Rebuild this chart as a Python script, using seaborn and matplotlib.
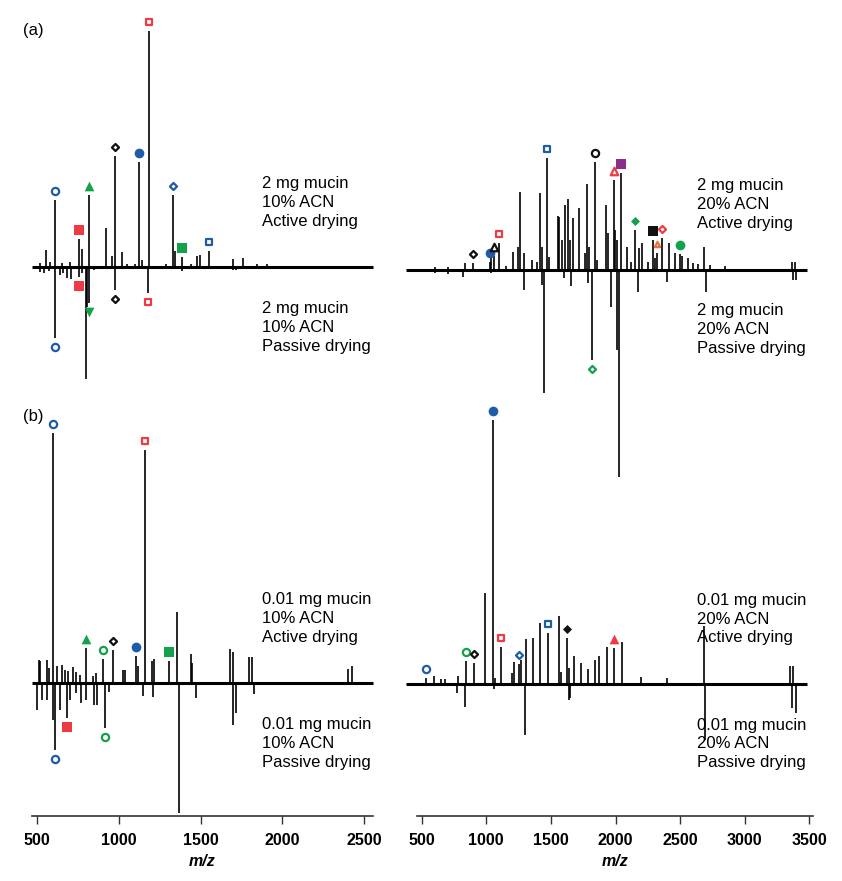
import numpy as np
import matplotlib
matplotlib.use("Agg")
import matplotlib.pyplot as plt
import seaborn as sns

# ---------------- peak lists (m/z, intensity a.u.) ----------------
# (a) 2 mg mucin, 10% ACN
a10_act_mz = [520, 553, 580, 610, 650, 700, 757, 773, 816, 920, 961, 977, 1020, 1050, 1100,
              1126, 1140, 1183, 1290, 1334, 1346, 1387, 1440, 1477, 1495, 1554, 1697, 1758, 1844, 1905]
a10_act_int = [4, 17, 5, 67, 4, 5, 28, 18, 72, 39, 11, 111, 15, 3, 3,
               105, 7, 236, 3, 72, 16, 10, 3, 11, 12, 16, 8, 9, 3, 3]
a10_pas_mz = [520, 545, 575, 610, 640, 660, 685, 705, 757, 775, 800, 808, 818, 850, 977, 1181, 1385, 1700, 1720]
a10_pas_int = [5, 6, 4, 71, 8, 6, 11, 12, 10, 6, 112, 40, 36, 3, 23, 26, 4, 3, 3]

# (a) 2 mg mucin, 20% ACN
a20_act_mz = [600, 700, 835, 900, 1025, 1040, 1062, 1101, 1150, 1204, 1248, 1263, 1294, 1351, 1392,
              1413, 1429, 1470, 1484, 1553, 1565, 1589, 1612, 1630, 1646, 1673, 1720, 1764, 1782, 1797,
              1841, 1860, 1926, 1939, 1985, 1997, 2012, 2045, 2091, 2120, 2148, 2184, 2203, 2250, 2293,
              2305, 2319, 2358, 2414, 2460, 2499, 2514, 2564, 2600, 2640, 2688, 2730, 2850, 3364, 3390]
a20_act_int = [3, 3, 7, 7, 8, 12, 14, 27, 4, 18, 23, 78, 17, 10, 8,
               77, 23, 112, 13, 54, 53, 30, 65, 71, 30, 52, 62, 17, 86, 23,
               108, 10, 65, 37, 90, 40, 30, 97, 23, 8, 40, 22, 27, 8, 30,
               12, 17, 32, 27, 17, 16, 14, 12, 7, 6, 23, 5, 4, 8, 8]
a20_pas_mz = [600, 700, 822, 1040, 1292, 1433, 1446, 1600, 1653, 1790, 1815, 1963, 2009, 2027,
              2177, 2396, 2700, 3375, 3400]
a20_pas_int = [3, 4, 7, 3, 20, 15, 123, 8, 16, 13, 90, 37, 80, 207, 22, 12, 22, 10, 10]

# (b) 0.01 mg mucin, 10% ACN
b10_act_mz = [512, 520, 559, 575, 600, 624, 655, 674, 688, 718, 741, 761, 800, 843, 863, 902, 963,
              1028, 1040, 1104, 1118, 1163, 1201, 1213, 1307, 1354, 1440, 1450, 1681, 1697, 1799,
              1817, 2401, 2425]
b10_act_int = [23, 22, 23, 15, 250, 17, 18, 13, 12, 16, 11, 8, 35, 7, 10, 24, 33,
               13, 13, 27, 17, 233, 22, 24, 22, 71, 29, 20, 34, 31, 26,
               26, 14, 17]
b10_pas_mz = [498, 528, 563, 596, 610, 641, 682, 702, 740, 769, 802, 850, 865, 916, 940, 1151,
              1211, 1371, 1471, 1697, 1716, 1830]
b10_pas_int = [27, 17, 17, 37, 67, 27, 35, 17, 10, 20, 17, 22, 22, 45, 9, 13,
               14, 130, 15, 42, 30, 11]

# (b) 0.01 mg mucin, 20% ACN
b20_act_mz = [533, 595, 650, 680, 779, 843, 905, 990, 1049, 1070, 1111, 1196, 1212, 1255, 1268,
              1305, 1359, 1416, 1475, 1560, 1575, 1622, 1640, 1679, 1731, 1785, 1841, 1872, 1932,
              1991, 2048, 2197, 2396, 2688, 3351, 3376]
b20_act_int = [6, 8, 5, 5, 8, 23, 21, 91, 264, 6, 37, 11, 22, 20, 24,
               45, 46, 61, 51, 68, 12, 46, 16, 28, 21, 15, 24, 28, 37,
               36, 42, 7, 6, 58, 18, 18]
b20_pas_mz = [771, 835, 1060, 1300, 1637, 1650, 2693, 3364, 3397]
b20_pas_int = [9, 23, 5, 51, 16, 14, 56, 24, 29]

# glycan symbols above / below peaks (m/z of labelled peak, symbol)
a10_act_notes = [(610, "o_open_blue"), (757, "s_fill_red"), (816, "t_fill_green"), (977, "d_open_black"),
                 (1126, "o_fill_blue"), (1183, "s_open_red"), (1334, "d_open_blue"),
                 (1387, "s_fill_green"), (1554, "s_open_blue")]
a10_pas_notes = [(610, "o_open_blue"), (757, "s_fill_red"), (818, "v_fill_green"),
                 (977, "d_open_black"), (1181, "s_open_red")]
a20_act_notes = [(900, "d_open_black"), (1025, "o_fill_blue"), (1062, "t_open_black"),
                 (1101, "s_open_red"), (1470, "s_open_blue"), (1841, "o_open_black"),
                 (1985, "t_open_red"), (2045, "s_fill_purple"), (2148, "d_fill_green"),
                 (2293, "s_fill_black"), (2319, "t_open_orange"), (2358, "d_open_red"),
                 (2499, "o_fill_green")]
a20_pas_notes = [(1815, "d_open_green")]
b10_act_notes = [(600, "o_open_blue"), (800, "t_fill_green"), (902, "o_open_green"),
                 (963, "d_open_black"), (1104, "o_fill_blue"), (1163, "s_open_red"),
                 (1307, "s_fill_green")]
b10_pas_notes = [(610, "o_open_blue"), (682, "s_fill_red"), (916, "o_open_green")]
b20_act_notes = [(533, "o_open_blue"), (843, "o_open_green"), (905, "d_open_black"),
                 (1049, "o_fill_blue"), (1111, "s_open_red"), (1255, "d_open_blue"),
                 (1475, "s_open_blue"), (1622, "d_fill_black"), (1991, "t_fill_red")]
b20_pas_notes = []

conditions = ["Active drying", "Passive drying"]

# ---------------- styling ----------------
BLUE, RED, GREEN = "#1f5ca8", "#ee3b43", "#13a24b"
PURPLE, ORANGE, BLACK = "#8e2c8e", "#f26b3a", "#111111"
COLORS = {"blue": BLUE, "red": RED, "green": GREEN, "purple": PURPLE, "orange": ORANGE, "black": BLACK}
SHAPES = {"o": "o", "s": "s", "d": "D", "t": "^", "v": "v"}
SIZES = {("o", True): 7.0, ("o", False): 5.2, ("s", True): 6.6, ("s", False): 5.0,
         ("d", True): 4.6, ("d", False): 3.6, ("t", True): 7.0, ("t", False): 5.4,
         ("v", True): 7.0}
OFFSET = 9

sns.set_theme(style="white")
plt.rcParams["font.family"] = ["Liberation Sans", "DejaVu Sans"]
plt.rcParams["text.color"] = "black"
plt.rcParams["axes.labelcolor"] = "black"
plt.rcParams["xtick.color"] = "black"

W, H = 842, 881
fig = plt.figure(figsize=(W / 100, H / 100), dpi=100)


def px_axes(l, t, r, b):
    return fig.add_axes([l / W, 1 - b / H, (r - l) / W, (b - t) / H])


def draw_marker(ax, x, y, key):
    shape, fill, col = key.split("_")
    filled = fill == "fill"
    size = SIZES[(shape, filled)]
    if col == "orange":
        size = 3.8
    color = COLORS[col]
    sns.scatterplot(x=[x], y=[y], ax=ax, marker=SHAPES[shape], s=size ** 2,
                    color=color if filled else "white", edgecolor=color,
                    linewidth=0 if filled else 1.6, clip_on=False, legend=False, zorder=5)


def draw_spectrum(ax, mz, inten, sign, notes):
    mz = np.asarray(mz, dtype=float)
    inten = np.asarray(inten, dtype=float)
    assert len(mz) == len(inten)
    ax.vlines(mz, 0, sign * inten, color="black", lw=1.2, clip_on=False, zorder=3)
    for m, key in notes:
        i = np.argmin(np.abs(mz - m))
        draw_marker(ax, mz[i], sign * (inten[i] + OFFSET), key)


panels = [
    dict(box=(32, 0, 373, 400), base=267.3, xlim=(469.4, 2555), span=(470, 2552),
         act=(a10_act_mz, a10_act_int, a10_act_notes), pas=(a10_pas_mz, a10_pas_int, a10_pas_notes),
         text=("2 mg mucin", "10% ACN"), axis=False),
    dict(box=(417, 0, 813, 400), base=269.5, xlim=(463.6, 3528.6), span=(382, 3485),
         act=(a20_act_mz, a20_act_int, a20_act_notes), pas=(a20_pas_mz, a20_pas_int, a20_pas_notes),
         text=("2 mg mucin", "20% ACN"), axis=False),
    dict(box=(32, 400, 373, 815.7), base=683.3, xlim=(469.4, 2555), span=(470, 2552),
         act=(b10_act_mz, b10_act_int, b10_act_notes), pas=(b10_pas_mz, b10_pas_int, b10_pas_notes),
         text=("0.01 mg mucin", "10% ACN"), axis=True),
    dict(box=(417, 400, 813, 815.7), base=684.0, xlim=(463.6, 3528.6), span=(382, 3485),
         act=(b20_act_mz, b20_act_int, b20_act_notes), pas=(b20_pas_mz, b20_pas_int, b20_pas_notes),
         text=("0.01 mg mucin", "20% ACN"), axis=True),
]

for p in panels:
    l, t, r, b = p["box"]
    ax = px_axes(l, t, r, b)
    ax.set_facecolor("none")
    ax.set_xlim(*p["xlim"])
    ax.set_ylim(-(b - p["base"]), p["base"] - t)
    ax.hlines(0, p["span"][0], p["span"][1], color="black", lw=2.2, clip_on=False, zorder=4)
    draw_spectrum(ax, *p["act"][:2], 1, p["act"][2])
    draw_spectrum(ax, *p["pas"][:2], -1, p["pas"][2])
    ax.set_yticks([])
    if p["axis"]:
        sns.despine(ax=ax, left=True)
        ax.spines["bottom"].set_color("#333333")
        ax.spines["bottom"].set_linewidth(1.2)
        ax.set_xticks(np.arange(500, p["xlim"][1], 500))
        ax.tick_params(axis="x", direction="out", length=5.6, width=1.0, color="#333333",
                       pad=6.5, labelsize=11.5, bottom=True)
        for lbl in ax.get_xticklabels():
            lbl.set_fontweight("bold")
        ax.set_xlabel("m/z", fontsize=11.5, fontweight="bold", fontstyle="italic", labelpad=5)
    else:
        sns.despine(ax=ax, left=True, bottom=True)
        ax.set_xticks([])

    tx = 262 if l < 100 else 697
    for cond, dy in zip(conditions, (-65, 60)):
        fig.text(tx / W, 1 - (p["base"] + dy) / H, "\n".join(p["text"] + (cond,)),
                 ha="left", va="center", fontsize=12, linespacing=1.32)

fig.text(23 / W, 1 - 30 / H, "(a)", ha="left", va="center", fontsize=12)
fig.text(23 / W, 1 - 417 / H, "(b)", ha="left", va="center", fontsize=12)

fig.savefig("out.png", dpi=100)
